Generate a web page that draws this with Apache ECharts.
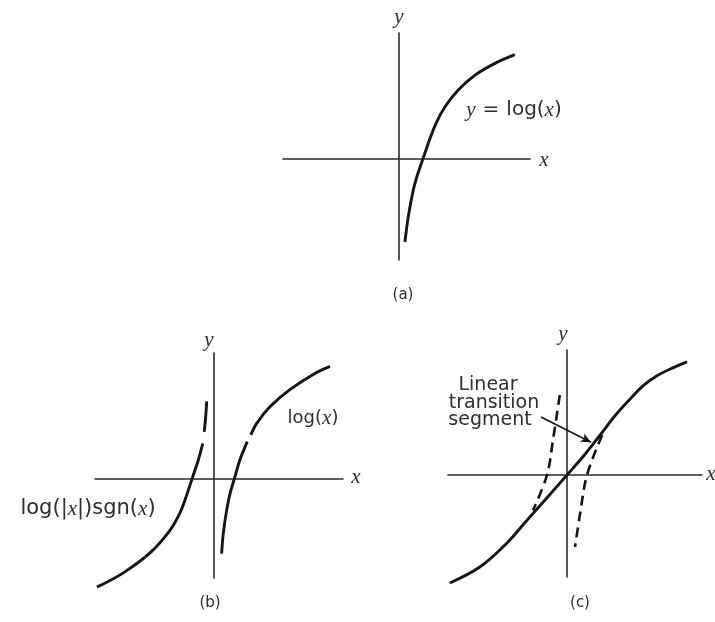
<!DOCTYPE html>
<html>
<head>
<meta charset="utf-8">
<script src="https://cdn.jsdelivr.net/npm/echarts@6/dist/echarts.min.js"></script>
<style>
  html, body { margin: 0; padding: 0; background: #fff; }
  #chart { width: 715px; height: 622px; }
</style>
</head>
<body>
<div id="chart"></div>
<script>
// (a) y = log(x): sampled points of the curve
const logX = [0.25, 0.39, 0.60, 0.77, 1.0, 1.22, 1.54, 1.92, 2.47, 3.17, 4.0, 4.83];
const logY = [-1.34, -0.93, -0.50, -0.26, 0, 0.25, 0.57, 0.84, 1.11, 1.35, 1.54, 1.68];

// (b) log(x) for x > 0 (null = small break in the printed stroke)
const posX = [0.39, 0.47, 0.63, 0.79, 1.0, 1.26, 1.61, null, 1.78, 2.06, 2.69, 3.64, 4.75, 5.55];
const posY = [-1.23, -0.90, -0.52, -0.25, 0, 0.30, 0.60, null, 0.71, 0.90, 1.17, 1.45, 1.70, 1.83];
// (b) log(|x|)sgn(x) for x < 0
const negX = [-5.55, -4.31, -3.02, -2.07, -1.60, -1.30, -1.01, -0.72, -0.51, null, -0.44, -0.38, -0.32];
const negY = [-1.78, -1.55, -1.22, -0.85, -0.57, -0.30, 0, 0.30, 0.57, null, 0.76, 0.96, 1.26];

// (c) curve with a linear transition segment through the origin
const sX = [-2.93, -2.18, -1.5, -1.0, -0.5, 0, 0.42, 0.83, 1.2, 1.58, 1.9, 2.25, 2.58, 3.0];
const sY = [-2.7, -2.3, -1.7, -1.13, -0.57, 0, 0.48, 1.0, 1.48, 1.9, 2.23, 2.48, 2.65, 2.83];
// dashed log branches near the origin
const dashRX = [0.88, 0.5, 0.33, 0.2];
const dashRY = [1.0, 0, -0.95, -1.8];
const dashLX = [-0.18, -0.35, -0.5, -0.85];
const dashLY = [2.0, 0.88, 0, -0.88];
// pointer from the label to the linear segment
const arrowFrom = [-0.65, 1.45];
const arrowTo = [0.6, 0.82];

// axis extents per panel
const rangeA = { xmin: -4.83, xmax: 5.46, ymin: -1.63, ymax: 2.03 };
const rangeB = { xmin: -5.64, xmax: 6.17, ymin: -1.63, ymax: 2.05 };
const rangeC = { xmin: -2.975, xmax: 3.375, ymin: -2.55, ymax: 3.125 };

const zip = (xs, ys) => xs.map((x, i) => (x === null ? [null, null] : [x, ys[i]]));

const INK = '#151515';
const AXIS = '#2b2b2b';
const TEXT = '#2e2e2e';
const SANS = '"DejaVu Sans", sans-serif';
const SERIF = '"Liberation Serif", serif';

function axisPair(r, idx) {
  const common = {
    type: 'value',
    gridIndex: idx,
    axisTick: { show: false },
    axisLabel: { show: false },
    splitLine: { show: false },
    axisLine: { show: true, onZero: true, lineStyle: { color: AXIS, width: 1.6 } }
  };
  return {
    x: Object.assign({ min: r.xmin, max: r.xmax }, common),
    y: Object.assign({ min: r.ymin, max: r.ymax }, common)
  };
}
const axA = axisPair(rangeA, 0);
const axB = axisPair(rangeB, 1);
const axC = axisPair(rangeC, 2);

function curve(idx, data, dashed) {
  return {
    type: 'line',
    xAxisIndex: idx,
    yAxisIndex: idx,
    data: data,
    smooth: 0.35,
    showSymbol: false,
    connectNulls: false,
    clip: false,
    silent: true,
    lineStyle: {
      color: INK,
      width: dashed ? 2.6 : 2.9,
      type: dashed ? [10, 6] : 'solid',
      cap: 'butt'
    }
  };
}

const italic = { fontFamily: SERIF, fontStyle: 'italic', fontSize: 21, fill: TEXT };

function label(x, y, text, size, extra) {
  return {
    type: 'text',
    x: x,
    y: y,
    silent: true,
    style: Object.assign({
      text: text,
      fontFamily: SANS,
      fontSize: size,
      fill: TEXT,
      align: 'center',
      verticalAlign: 'middle',
      rich: {
        i: italic,
        e: { fontFamily: SANS, fontSize: size, fill: TEXT, padding: [0, 7] }
      }
    }, extra || {})
  };
}

const chart = echarts.init(document.getElementById('chart'), null, { renderer: 'canvas' });

const arrowSeries = curve(2, [], false);
arrowSeries.markLine = {
  silent: true,
  animation: false,
  symbol: ['none', 'arrow'],
  symbolSize: [7, 10],
  label: { show: false },
  lineStyle: { color: INK, width: 1.6, type: 'solid' },
  data: [[{ coord: arrowFrom }, { coord: arrowTo }]]
};

chart.setOption({
  animation: false,
  backgroundColor: '#ffffff',
  grid: [
    { left: 283, top: 33, width: 247, height: 227, outerBoundsMode: 'none' },
    { left: 95, top: 353, width: 248, height: 225, outerBoundsMode: 'none' },
    { left: 448, top: 350, width: 254, height: 227, outerBoundsMode: 'none' }
  ],
  xAxis: [axA.x, axB.x, axC.x],
  yAxis: [axA.y, axB.y, axC.y],
  series: [
    curve(0, zip(logX, logY), false),
    curve(1, zip(posX, posY), false),
    curve(1, zip(negX, negY), false),
    curve(2, zip(sX, sY), false),
    curve(2, zip(dashRX, dashRY), true),
    curve(2, zip(dashLX, dashLY), true),
    arrowSeries
  ],
  graphic: [
    // panel (a)
    label(399, 17, '{i|y}', 18),
    label(544, 160, '{i|x}', 18),
    label(514, 110, '{i|y}{e|=}log({i|x})', 20),
    label(403, 295, '(a)', 15),
    // panel (b)
    label(209, 340, '{i|y}', 18),
    label(356, 477, '{i|x}', 18),
    label(313, 418, 'log({i|x})', 18),
    label(88, 509, 'log(|{i|x}|)sgn({i|x})', 21),
    label(210, 603, '(b)', 15),
    // panel (c)
    label(563, 334, '{i|y}', 18),
    label(711, 474, '{i|x}', 18),
    label(488, 385, 'Linear', 19),
    label(494, 403, 'transition', 19),
    label(490, 420, 'segment', 19),
    label(580, 603, '(c)', 15)
  ]
});
</script>
</body>
</html>
